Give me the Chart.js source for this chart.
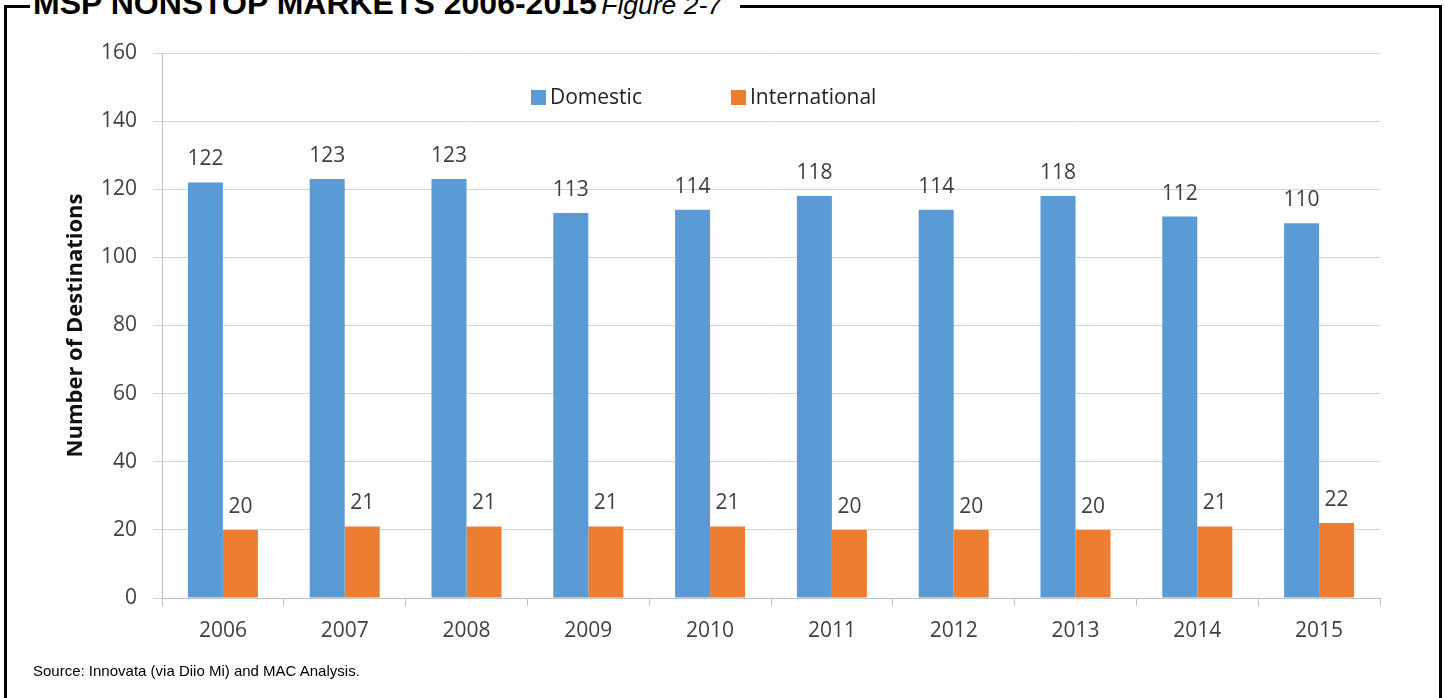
<!DOCTYPE html>
<html>
<head>
<meta charset="utf-8">
<script src="https://cdn.jsdelivr.net/npm/chart.js@4.4.1/dist/chart.umd.min.js"></script>
<style>
  html, body { margin: 0; padding: 0; background: #fff; }
  body { width: 1445px; height: 698px; overflow: hidden; position: relative; }
  #frame { position: absolute; left: 4px; top: 5px; width: 1432px; height: 800px; border: 3px solid #000; box-sizing: content-box; }
  #title { position: absolute; left: 30px; top: -12px; line-height: 30px; background: #fff; padding: 0 18px 0 3px; white-space: nowrap; color: #000; font-family: "Liberation Sans", Arial, sans-serif; z-index: 3; }
  #title b { font-size: 32px; font-weight: bold; }
  #title i { font-size: 26.5px; font-style: italic; font-weight: normal; }
  #chartwrap { position: absolute; left: 0; top: 0; width: 1445px; height: 698px; z-index: 1; }
  .leg { position: absolute; top: 82px; font-family: "Open Sans", sans-serif; font-size: 21px; color: #222; line-height: 28px; z-index: 2; white-space: nowrap; }
  .leg span.box { display: inline-block; width: 15px; height: 15px; margin-right: 4px; vertical-align: -1px; }
  #source { position: absolute; left: 33px; top: 662px; font-family: "Liberation Sans", Arial, sans-serif; font-size: 15px; color: #000; z-index: 2; white-space: nowrap; }
</style>
</head>
<body>
<div id="frame"></div>
<div id="title"><b>MSP NONSTOP MARKETS 2006-2015</b> <i>Figure 2-7</i></div>
<div id="chartwrap"><canvas id="c" width="1445" height="698"></canvas></div>
<div class="leg" id="leg1" style="left:531px;"><span class="box" style="background:#5B9BD5"></span>Domestic</div>
<div class="leg" id="leg2" style="left:731px;"><span class="box" style="background:#ED7D31"></span>International</div>
<div id="source">Source: Innovata (via Diio Mi) and MAC Analysis.</div>
<script>
const categories = ['2006','2007','2008','2009','2010','2011','2012','2013','2014','2015'];
const domestic = [122, 123, 123, 113, 114, 118, 114, 118, 112, 110];
const international = [20, 21, 21, 21, 21, 20, 20, 20, 21, 22];
const seriesNames = ['Domestic', 'International'];
const yTitle = 'Number of Destinations';

const labelPlugin = {
  id: 'valueLabels',
  afterDatasetsDraw(chart) {
    const ctx = chart.ctx;
    ctx.save();
    ctx.font = '21px "Open Sans"';
    ctx.fillStyle = '#404040';
    ctx.textAlign = 'center';
    ctx.textBaseline = 'alphabetic';
    chart.data.datasets.forEach((ds, di) => {
      const meta = chart.getDatasetMeta(di);
      meta.data.forEach((bar, i) => {
        ctx.fillText(String(ds.data[i]), bar.x, bar.y - 17);
      });
    });
    ctx.restore();
  }
};

new Chart(document.getElementById('c'), {
  type: 'bar',
  data: {
    labels: categories,
    datasets: [
      { label: seriesNames[0], data: domestic, backgroundColor: '#5B9BD5', categoryPercentage: 0.575, barPercentage: 1.0 },
      { label: seriesNames[1], data: international, backgroundColor: '#ED7D31', categoryPercentage: 0.575, barPercentage: 1.0 }
    ]
  },
  options: {
    responsive: false,
    animation: false,
    devicePixelRatio: 1,
    layout: { padding: { left: 0, right: 65, top: 53, bottom: 0 } },
    plugins: { legend: { display: false }, tooltip: { enabled: false } },
    scales: {
      x: {
        grid: { drawOnChartArea: false, drawTicks: true, tickLength: 8, color: '#bfbfbf', offset: true },
        border: { color: '#bfbfbf' },
        ticks: { font: { family: 'Open Sans', size: 21 }, color: '#404040', padding: 12 },
        afterFit(s) { s.height = 100; }
      },
      y: {
        min: 0, max: 160,
        ticks: { stepSize: 20, font: { family: 'Open Sans', size: 21 }, color: '#404040', padding: 16 },
        grid: { color: '#d4d4d4', tickLength: 9 },
        border: { color: '#bfbfbf' },
        title: { display: true, text: yTitle, font: { family: 'Open Sans', size: 22, weight: 'bold' }, color: '#111', padding: { top: 63 } },
        afterFit(s) { s.width = 162; }
      }
    }
  },
  plugins: [labelPlugin]
});
</script>
</body>
</html>
